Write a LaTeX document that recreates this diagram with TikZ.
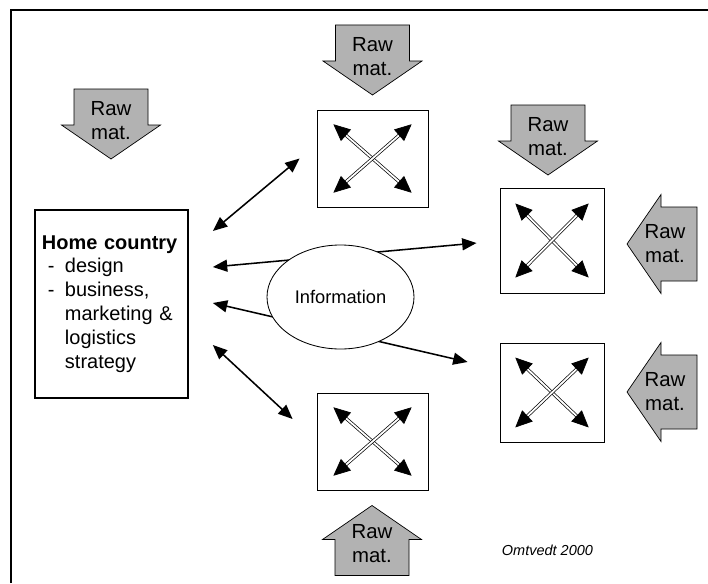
\documentclass[tikz,border=0pt]{standalone}
\usepackage{fontspec}
\setmainfont{Liberation Sans}
\usetikzlibrary{positioning,arrows.meta,calc,shapes.geometric}
\definecolor{rawgray}{RGB}{178,178,178}
\tikzset{
  linkarrow/.style={{Triangle[length=3.6mm,width=3mm]}-{Triangle[length=3.6mm,width=3mm]}, line width=1.1pt},
  crossarrow/.style={{Triangle[length=4.2mm,width=3.8mm]}-{Triangle[length=4.2mm,width=3.8mm]}, double, double distance=1.3pt, line width=0.5pt},
  sitebox/.style={draw, line width=0.6pt, fill=white, inner sep=0pt},
  homebox/.style={draw, line width=1.2pt, text width=34.75mm, inner xsep=1.75mm, minimum height=47mm, align=left, font=\fontsize{14.2}{17}\selectfont},
  infonode/.style={draw, ellipse, line width=0.6pt, fill=white, inner sep=0pt, minimum width=36.75mm, minimum height=26mm, font=\fontsize{13}{15}\selectfont},
  rawmat/.pic={
    \draw[line width=0.5pt, fill=rawgray] (-35,-37) -- (1,-37) -- (1,-49.5) -- (35,0) -- (1,49.5) -- (1,37) -- (-35,37) -- cycle;
    \node[font=\fontsize{14.5}{17}\selectfont, align=center] (-label) at (-3,0) {Raw\\mat.};
  }
}
\begin{document}
\begin{tikzpicture}[x=0.25mm, y=-0.25mm]
  \useasboundingbox (0,0) rectangle (708,583);
  \draw[line width=1pt] (11,583) -- (11,10) -- (708,10);

  % home country and the four sites
  \node[homebox] (home) at (111.5,304) {\textbf{Home country}\\
    \hspace*{1.5mm}\makebox[4.25mm][l]{-}design\\
    \hspace*{1.5mm}\makebox[4.25mm][l]{-}business,\\
    \hspace*{5.75mm}marketing \&\\
    \hspace*{5.75mm}logistics\\
    \hspace*{5.75mm}strategy};
  \node[sitebox, minimum width=27.75mm, minimum height=24.25mm] (sitetop) at (372.5,158.5) {};
  \node[sitebox, minimum width=26mm, minimum height=26.25mm] (siteright) at (552,240.5) {};
  \node[sitebox, minimum width=26mm, minimum height=24.75mm] (sitelow) at (552,392.5) {};
  \node[sitebox, minimum width=27.75mm, minimum height=24.25mm] (sitebottom) at (372.5,441.5) {};

  % flows inside each site
  \draw[crossarrow] ($(sitetop.north west)!0.15!(sitetop.south east)$) -- ($(sitetop.north west)!0.85!(sitetop.south east)$);
  \draw[crossarrow] ($(sitetop.north east)!0.15!(sitetop.south west)$) -- ($(sitetop.north east)!0.85!(sitetop.south west)$);
  \draw[crossarrow] ($(siteright.north west)!0.15!(siteright.south east)$) -- ($(siteright.north west)!0.85!(siteright.south east)$);
  \draw[crossarrow] ($(siteright.north east)!0.15!(siteright.south west)$) -- ($(siteright.north east)!0.85!(siteright.south west)$);
  \draw[crossarrow] ($(sitelow.north west)!0.15!(sitelow.south east)$) -- ($(sitelow.north west)!0.85!(sitelow.south east)$);
  \draw[crossarrow] ($(sitelow.north east)!0.15!(sitelow.south west)$) -- ($(sitelow.north east)!0.85!(sitelow.south west)$);
  \draw[crossarrow] ($(sitebottom.north west)!0.15!(sitebottom.south east)$) -- ($(sitebottom.north west)!0.85!(sitebottom.south east)$);
  \draw[crossarrow] ($(sitebottom.north east)!0.15!(sitebottom.south west)$) -- ($(sitebottom.north east)!0.85!(sitebottom.south west)$);

  % links to the home country
  \draw[linkarrow] ($(home.east)+(24,-73)$) -- ($(sitetop.west)+(-17,0)$);
  \draw[linkarrow] ($(home.east)+(24,-37)$) -- ($(siteright.west)+(-23,2.5)$);
  \draw[linkarrow] ($(home.east)+(24,-1)$) -- ($(sitelow.west)+(-32,-30.5)$);
  \draw[linkarrow] ($(home.east)+(24,41)$) -- ($(sitebottom.west)+(-24,-22.5)$);
  \node[infonode] (info) at (340.5,297) {Information};

  % raw materials
  \pic[rotate=-90] (rawhome) at (111,124) {rawmat};
  \pic[rotate=-90] (rawtop) at (372.5,60) {rawmat};
  \pic[rotate=-90] (rawright) at (548,140) {rawmat};
  \pic[rotate=180] (rawside) at (662,244) {rawmat};
  \pic[rotate=180] (rawlow) at (662,392) {rawmat};
  \pic[rotate=90] (rawbottom) at (372,540.5) {rawmat};

  \node[anchor=base west, font=\fontsize{10.3}{12}\selectfont\itshape] (credit) at (497,555) {Omtvedt 2000};
\end{tikzpicture}
\end{document}
